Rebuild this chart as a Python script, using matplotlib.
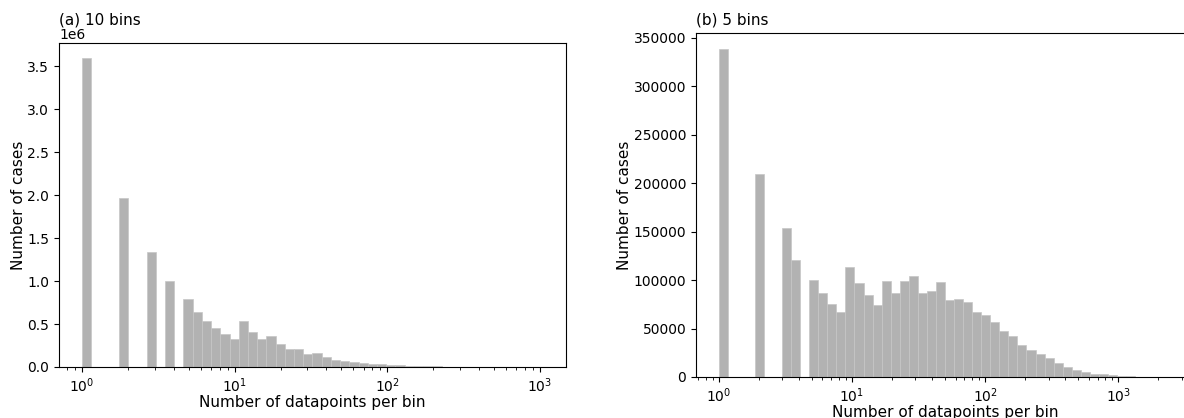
import numpy as np
import matplotlib
matplotlib.use("Agg")
import matplotlib.pyplot as plt

# bar heights per log-spaced bin (50 bins each)
counts_10 = [3592000, 0, 0, 0, 1963000, 0, 0, 1338000, 0, 1000000,
             0, 790000, 642000, 533000, 451000, 381000, 331000, 533000, 412000, 323000,
             366000, 272000, 206000, 205000, 152000, 163000, 113000, 82000, 74000, 58000,
             47000, 39000, 31000, 23000, 19000, 16000, 12000, 9000, 7000, 5000,
             4000, 3000, 2000, 1500, 1000, 700, 500, 300, 200, 100]
counts_5 = [338000, 0, 0, 0, 209000, 0, 0, 154000, 121000, 0,
            100000, 86800, 75000, 67000, 114000, 96900, 84400, 74700, 98600, 86500,
            99300, 103800, 86500, 88900, 97900, 79200, 80900, 77800, 67000, 63900,
            56900, 47200, 42700, 33000, 27400, 23300, 19100, 14900, 10400, 7300,
            4900, 3500, 3100, 2100, 1000, 700, 300, 200, 100, 50]
max_10 = 1050   # largest datapoint count in each case
max_5 = 2500
titles = ["(a) 10 bins", "(b) 5 bins"]

fig = plt.figure(figsize=(11.84, 4.18), dpi=100)
W, H = 1184, 418
ax1 = fig.add_axes([59 / W, 1 - 367 / H, (566 - 59) / W, (367 - 43) / H])
ax2 = fig.add_axes([696 / W, 1 - 377 / H, (1194 - 696) / W, (377 - 33) / H])

for ax, cnt, mx, title in zip([ax1, ax2], [counts_10, counts_5], [max_10, max_5], titles):
    edges = np.logspace(0, np.log10(mx), len(cnt) + 1)
    ax.hist(edges[:-1], bins=edges, weights=cnt, color="#b2b2b2",
            edgecolor="#c6c6c6", linewidth=0.5)
    ax.set_xscale("log")
    ax.set_xlabel("Number of datapoints per bin", fontsize=11, labelpad=0)
    ax.set_ylabel("Number of cases", fontsize=11, labelpad=1)
    ax.tick_params(labelsize=10)

# left title sits higher, above the 1e6 offset text
ax1.set_title(titles[0], loc="left", fontsize=11, y=1.0, pad=13)
ax2.set_title(titles[1], loc="left", fontsize=11)

fig.savefig("out.png", dpi=100)
